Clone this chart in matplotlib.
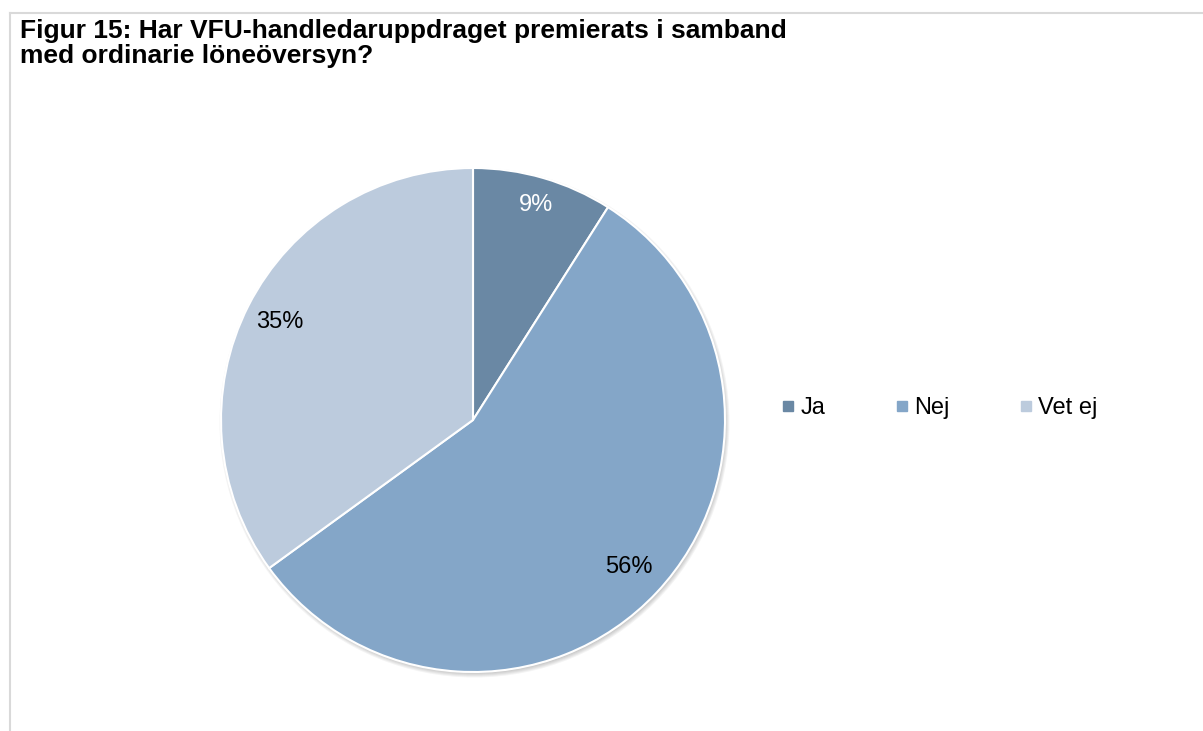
import numpy as np
import matplotlib.pyplot as plt
from matplotlib.lines import Line2D
from matplotlib.patches import Circle

plt.rcParams['font.family'] = ['Liberation Sans', 'DejaVu Sans']

labels = ['Ja', 'Nej', 'Vet ej']
values = [9, 56, 35]
colors = ['#6a88a4', '#84a6c8', '#bccbdd']
pct_colors = ['white', 'black', 'black']
pct_dist = [0.89, 0.85, 0.86]

W, H = 1203, 731
fig = plt.figure(figsize=(W / 100, H / 100), dpi=100)

# light frame, only left and top edges show
fig.add_artist(Line2D([10 / W, 10 / W], [0, 1 - 13 / H],
                      color='#d9d9d9', lw=1.5, transform=fig.transFigure))
fig.add_artist(Line2D([10 / W, 1], [1 - 13 / H, 1 - 13 / H],
                      color='#d9d9d9', lw=1.5, transform=fig.transFigure))

title_lines = ['Figur 15: Har VFU-handledaruppdraget premierats i samband',
               'med ordinarie löneöversyn?']
for line, base in zip(title_lines, [38, 63]):
    fig.text(20 / W, 1 - base / H, line, fontsize=19, fontweight='bold',
             ha='left', va='baseline')

# pie centre (473, 420), radius 252 px; axes a bit larger to fit the shadow
r = 252
pad = 1.03
half = r * pad
ax = fig.add_axes([(473 - half) / W, 1 - (420 + half) / H, 2 * half / W, 2 * half / H])

# soft drop shadow under the pie
px = 1 / r
for k in range(5):
    ax.add_patch(Circle((1.5 * px, -2.5 * px), 1 + (k - 1) * px,
                        color='black', alpha=0.045, lw=0, zorder=0))

wedges, texts, autotexts = ax.pie(
    values, colors=colors, startangle=90, counterclock=False,
    autopct='%d%%',
    wedgeprops=dict(edgecolor='white', linewidth=1.5, zorder=2),
    textprops=dict(fontsize=17))
for w, t, c, d in zip(wedges, autotexts, pct_colors, pct_dist):
    ang = np.deg2rad((w.theta1 + w.theta2) / 2)
    t.set_position((d * np.cos(ang), d * np.sin(ang)))
    t.set_color(c)
    t.set_zorder(3)
ax.set_xlim(-pad, pad)
ax.set_ylim(-pad, pad)
ax.set_aspect('equal')
ax.set_axis_off()

handles = [Line2D([], [], marker='s', linestyle='', markersize=7.2,
                  markerfacecolor=c, markeredgecolor=c) for c in colors]
fig.legend(handles, labels, loc='center left', ncol=3,
           bbox_to_anchor=(783 / W, 1 - 408 / H), frameon=False,
           fontsize=17, handletextpad=0.3, columnspacing=3.0,
           handlelength=0.45, borderpad=0, borderaxespad=0)

fig.savefig('out.png', dpi=100)
